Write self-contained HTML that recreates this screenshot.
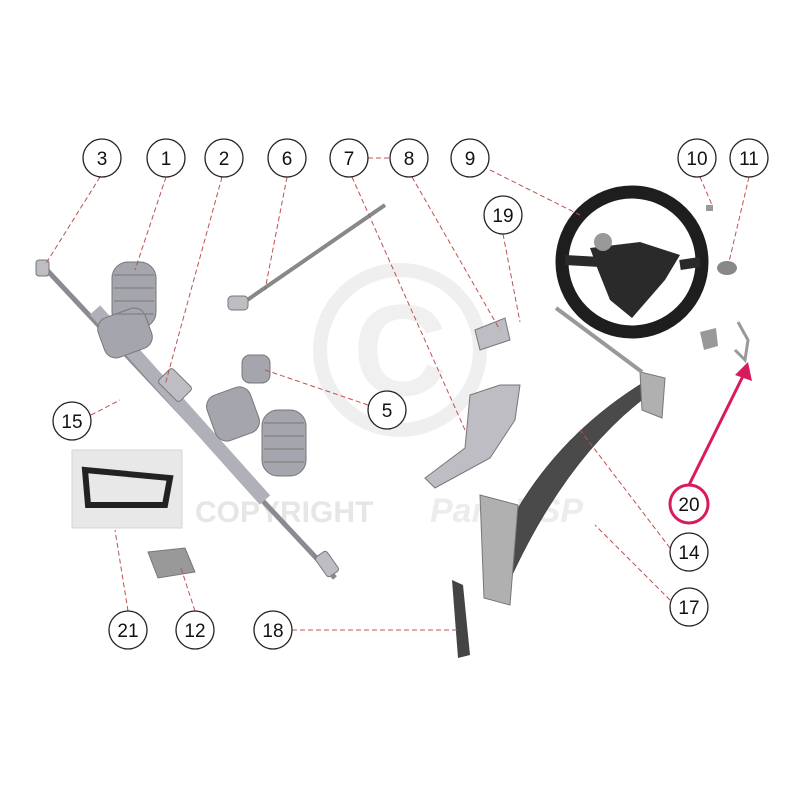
<!DOCTYPE html>
<html><head><meta charset="utf-8"><style>
html,body{margin:0;padding:0;background:#fff;width:800px;height:800px;overflow:hidden}
svg text{font-family:"Liberation Sans",sans-serif}
</style></head><body>
<svg width="800" height="800" viewBox="0 0 800 800" xmlns="http://www.w3.org/2000/svg">
<!-- watermark -->
<circle cx="400" cy="350" r="80" fill="none" stroke="#efefef" stroke-width="14"/>
<text x="400" y="395" font-size="130" fill="#f0f0f0" text-anchor="middle" font-weight="bold">C</text>
<text x="195" y="522" font-size="30" fill="#e6e6e6" font-weight="bold">COPYRIGHT</text>
<text x="430" y="522" font-size="34" fill="#ececec" font-style="italic" font-weight="bold">PartsVSP</text>

<!-- rack -->
<g stroke="#777" fill="#bdbdc3">
<line x1="45" y1="268" x2="335" y2="578" stroke-width="5" stroke="#8a8a90"/>
<line x1="95" y1="310" x2="265" y2="500" stroke-width="14" stroke="#b0b0b8"/>
<rect x="36" y="260" width="13" height="16" rx="3"/>
<rect x="160" y="375" width="30" height="20" rx="3" transform="rotate(45 175 385)"/>
<rect x="320" y="552" width="14" height="24" rx="3" transform="rotate(-35 327 564)"/>
</g>
<g fill="#a5a5ad" stroke="#777">
<rect x="112" y="262" width="44" height="66" rx="16"/>
<rect x="262" y="410" width="44" height="66" rx="16"/>
<rect x="100" y="312" width="50" height="42" rx="12" transform="rotate(-20 125 333)"/>
<rect x="210" y="390" width="46" height="48" rx="12" transform="rotate(-20 233 414)"/>
<rect x="242" y="355" width="28" height="28" rx="8"/>
</g>
<g stroke="#888" stroke-width="1.5">
<line x1="114" y1="275" x2="154" y2="275"/><line x1="114" y1="288" x2="154" y2="288"/><line x1="114" y1="301" x2="154" y2="301"/><line x1="114" y1="314" x2="154" y2="314"/>
<line x1="264" y1="423" x2="304" y2="423"/><line x1="264" y1="436" x2="304" y2="436"/><line x1="264" y1="449" x2="304" y2="449"/><line x1="264" y1="462" x2="304" y2="462"/>
</g>
<g stroke="#777" fill="#bdbdc3">
<line x1="240" y1="305" x2="385" y2="205" stroke-width="4" stroke="#888"/>
<rect x="228" y="296" width="20" height="14" rx="4"/>
<path d="M475 330 L505 318 L510 340 L480 350 Z"/>
<path d="M425 478 L465 448 L470 395 L500 385 L520 385 L515 420 L490 458 L435 488 Z"/>
<path d="M148 552 L185 548 L195 572 L158 578 Z" fill="#999"/>
</g>
<!-- bracket -->
<path d="M492 560 Q540 445 648 380 L652 392 Q565 455 506 588 Z" fill="#4a4a4a" stroke="#444"/>
<path d="M480 495 L518 505 L510 605 L484 598 Z" fill="#b0b0b0" stroke="#777"/>
<path d="M640 372 L665 378 L662 418 L642 410 Z" fill="#b0b0b0" stroke="#777"/>
<path d="M556 308 L642 372" stroke="#999" stroke-width="4"/>
<path d="M452 580 L463 585 L470 655 L458 658 Z" fill="#444"/>
<path d="M700 332 L716 328 L718 346 L704 350 Z" fill="#999"/>
<path d="M738 322 L748 340 L745 360 L735 350" stroke="#999" fill="none" stroke-width="3"/>
<!-- steering wheel -->
<ellipse cx="632" cy="262" rx="70" ry="70" fill="none" stroke="#1e1e1e" stroke-width="13"/>
<path d="M590 248 L640 242 L680 255 L665 280 L632 318 L610 300 L598 270 Z" fill="#2a2a2a"/>
<path d="M565 260 L600 262 M680 265 L700 262" stroke="#2a2a2a" stroke-width="10"/>
<circle cx="603" cy="242" r="9" fill="#999"/>
<ellipse cx="727" cy="268" rx="10" ry="7" fill="#888"/>
<rect x="706" y="205" width="7" height="6" fill="#999"/>

<!-- photo 21 -->
<rect x="72" y="450" width="110" height="78" fill="#e8e8e8" stroke="#d4d4d4"/>
<path d="M85 470 L170 478 L165 505 L88 505 Z" fill="none" stroke="#222" stroke-width="6"/>

<!-- leaders -->
<g stroke="#c05050" stroke-width="1" stroke-dasharray="5,3" fill="none">
<line x1="100" y1="177" x2="45" y2="265"/>
<line x1="166" y1="177" x2="135" y2="270"/>
<line x1="222" y1="177" x2="165" y2="385"/>
<line x1="287" y1="177" x2="265" y2="290"/>
<line x1="368" y1="158" x2="390" y2="158"/>
<line x1="352" y1="177" x2="465" y2="430"/>
<line x1="412" y1="177" x2="500" y2="330"/>
<line x1="490" y1="170" x2="580" y2="215"/>
<line x1="700" y1="177" x2="712" y2="205"/>
<line x1="749" y1="177" x2="729" y2="262"/>
<line x1="503" y1="234" x2="520" y2="322"/>
<line x1="91" y1="415" x2="120" y2="400"/>
<line x1="368" y1="405" x2="265" y2="370"/>
<line x1="670" y1="548" x2="580" y2="430"/>
<line x1="670" y1="600" x2="595" y2="525"/>
<line x1="128" y1="611" x2="115" y2="530"/>
<line x1="195" y1="611" x2="180" y2="565"/>
<line x1="292" y1="630" x2="458" y2="630"/>
</g>
<!-- pink arrow -->
<line x1="689" y1="485" x2="745" y2="372" stroke="#d81b60" stroke-width="3"/>
<polygon points="748,362 735,375 752,381" fill="#d81b60"/>

<g font-size="19" text-anchor="middle" fill="#111">
<g fill="#fff" stroke="#222" stroke-width="1.3">
<circle cx="102" cy="158" r="19"/><circle cx="166" cy="158" r="19"/><circle cx="224" cy="158" r="19"/>
<circle cx="287" cy="158" r="19"/><circle cx="349" cy="158" r="19"/><circle cx="409" cy="158" r="19"/>
<circle cx="470" cy="158" r="19"/><circle cx="697" cy="158" r="19"/><circle cx="749" cy="158" r="19"/>
<circle cx="503" cy="215" r="19"/><circle cx="72" cy="421" r="19"/><circle cx="387" cy="410" r="19"/>
<circle cx="689" cy="552" r="19"/><circle cx="689" cy="607" r="19"/>
<circle cx="128" cy="630" r="19"/><circle cx="195" cy="630" r="19"/><circle cx="273" cy="630" r="19"/>
</g>
<circle cx="689" cy="504" r="19" fill="#fff" stroke="#d81b60" stroke-width="3"/>
<text x="102" y="165">3</text><text x="166" y="165">1</text><text x="224" y="165">2</text>
<text x="287" y="165">6</text><text x="349" y="165">7</text><text x="409" y="165">8</text>
<text x="470" y="165">9</text><text x="697" y="165">10</text><text x="749" y="165">11</text>
<text x="503" y="222">19</text><text x="72" y="428">15</text><text x="387" y="417">5</text>
<text x="689" y="511">20</text><text x="689" y="559">14</text><text x="689" y="614">17</text>
<text x="128" y="637">21</text><text x="195" y="637">12</text><text x="273" y="637">18</text>
</g>
</svg>
</body></html>
